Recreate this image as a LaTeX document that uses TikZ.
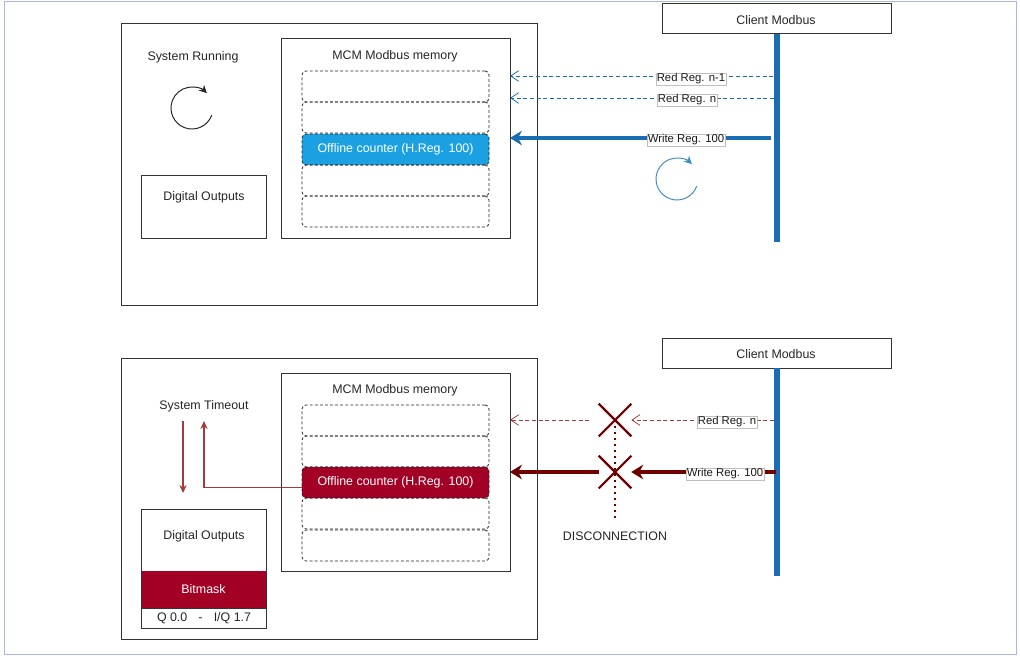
\documentclass[tikz,border=0pt]{standalone}
\usepackage{fontspec}
\setmainfont{Liberation Sans}
\usetikzlibrary{arrows.meta}
\definecolor{frameblue}{HTML}{AAB7E0}
\definecolor{lineblue}{HTML}{1A6DB3}
\definecolor{cellblue}{HTML}{1BA1E2}
\definecolor{loopblue}{HTML}{3A8CC6}
\definecolor{cellred}{HTML}{A20025}
\definecolor{darkred}{HTML}{6F0000}
\definecolor{thinred}{HTML}{A63A3A}
\begin{document}
\begin{tikzpicture}[x=0.75pt,y=-0.75pt,
  font=\fontsize{9.3}{11}\selectfont,
  framebox/.style={draw=frameblue, line width=0.9pt, anchor=north west, inner sep=0pt, minimum width=759pt, minimum height=489.75pt},
  box/.style={draw=black!80, line width=0.75pt, anchor=north west, inner sep=0pt, outer sep=0pt},
  outerbox/.style={box, minimum width=312pt, minimum height=210.75pt},
  memboxstyle/.style={box, minimum width=171.75pt},
  slot/.style={draw=black!85, dash pattern=on 2.2pt off 1.6pt, line width=0.6pt, rounded corners=3pt, anchor=north west, minimum width=140.25pt, minimum height=23.25pt, inner sep=0pt, outer sep=0pt},
  doutbox/.style={box, minimum width=93.75pt},
  clientbox/.style={box, minimum width=171.75pt, minimum height=22.5pt},
  txt/.style={inner sep=0pt, text=black!85},
  lbl/.style={fill=white, draw=black!25, line width=0.4pt, inner sep=0.6pt, text=black!90, font=\fontsize{8.5}{10}\selectfont},
  lifeline/.style={draw=lineblue, line width=4.5pt},
  readarrow/.style={dash pattern=on 3pt off 2pt, line width=0.6pt, -{Straight Barb[length=6pt,width=8pt,line width=0.6pt]}},
  writearrow/.style={line width=3pt, -{Stealth[length=9pt,width=11pt,inset=3pt]}},
  loop/.style={line width=0.75pt, -{Stealth[length=6pt,width=6pt]}},
  thinarrow/.style={draw=thinred, line width=0.9pt, -{Stealth[length=6pt,width=5.5pt]}},
  xmark/.style={minimum size=24pt, inner sep=0pt},
  xline/.style={draw=darkred, line width=1.6pt},
]
\useasboundingbox (0,0) rectangle (1020,656);
\node[framebox] (frame) at (4,1) {};

%% ---------------- TOP ----------------
\node[outerbox] (outer1) at (121,24) {};
\node[memboxstyle, minimum height=149.25pt] (mem1) at (281,39) {};
\node[txt] (memt1) at (395,56) {MCM Modbus memory};
\node[slot] (s11) at (302,71) {};
\node[slot] (s12) at (302,102) {};
\node[slot, fill=cellblue, text=white] (s13) at (302,134) {Offline counter (H.Reg. 100)};
\node[slot] (s14) at (302,165) {};
\node[slot] (s15) at (302,196) {};
\node[txt] (sysrun) at (193,57) {System Running};
\coordinate (loop1) at (192,108);
\draw[loop, draw=black!85] (loop1) ++(20:21) arc[start angle=20, end angle=315, radius=21];
\node[doutbox, minimum height=47.25pt] (dout1) at (141,175) {};
\node[txt] (doutt1) at (204,197) {Digital Outputs};

\node[clientbox] (client1) at (662,4) {};
\node[txt] (clientt1) at (776,20) {Client Modbus};
\coordinate (life1end) at (776,242);
\draw[lifeline] (client1.south) -- (client1.south |- life1end);

\coordinate (r1a) at (780,76);
\coordinate (r1b) at (774,98);
\coordinate (w1) at (771,138);
\draw[readarrow, draw=lineblue] (r1a) -- (r1a -| mem1.east);
\draw[readarrow, draw=lineblue] (r1b) -- (r1b -| mem1.east);
\draw[writearrow, draw=lineblue] (w1) -- (w1 -| mem1.east);
\node[lbl] (l1a) at (691,79) {Red Reg. n-1};
\node[lbl] (l1b) at (687,100) {Red Reg. n};
\node[lbl] (l1c) at (686,140) {Write Reg. 100};
\coordinate (loop2) at (677,179);
\draw[loop, draw=loopblue, line width=0.7pt] (loop2) ++(20:21) arc[start angle=20, end angle=315, radius=21];

%% ---------------- BOTTOM ----------------
\node[outerbox] (outer2) at (121,358) {};
\node[memboxstyle, minimum height=148.5pt] (mem2) at (281,373) {};
\node[txt] (memt2) at (395,390) {MCM Modbus memory};
\node[slot] (s21) at (302,405) {};
\node[slot] (s22) at (302,436) {};
\node[slot, fill=cellred, text=white] (s23) at (302,467) {Offline counter (H.Reg. 100)};
\node[slot] (s24) at (302,498) {};
\node[slot] (s25) at (302,530) {};
\node[txt] (systo) at (204,406) {System Timeout};

\node[doutbox, minimum height=89.25pt] (dout2) at (141,509) {};
\node[txt] (doutt2) at (204,536) {Digital Outputs};
\node[box, draw=none, fill=cellred, minimum width=93.75pt, minimum height=27.75pt, text=white] (bitmask) at (141,571) {Bitmask};
\draw[black!80, line width=0.75pt] (bitmask.south west) -- (bitmask.south east);
\draw[black!80, line width=0.75pt] (dout2.north west) rectangle (dout2.south east);
\node[txt] (range) at (204,618) {Q 0.0\hspace{0.9em}-\hspace{0.9em}I/Q 1.7};

\coordinate (dn1) at (183,421);
\coordinate (dn2) at (183,493);
\draw[thinarrow] (dn1) -- (dn2);
\coordinate (uptip) at (204,421);
\draw[thinarrow] ([yshift=-4pt]s23.west) -| (uptip);

\node[clientbox] (client2) at (662,338) {};
\node[txt] (clientt2) at (776,354) {Client Modbus};
\coordinate (life2end) at (776,576);
\draw[lifeline] (client2.south) -- (client2.south |- life2end);

\node[xmark] (x1) at (615,420) {};
\node[xmark] (x2) at (615,472) {};
\coordinate (dend) at (615,518);
\draw[darkred, line width=1.5pt, dash pattern=on 1.5pt off 3pt] (x1.center) -- (dend);
\draw[xline] (x1.north west) -- (x1.south east) (x1.north east) -- (x1.south west);
\draw[xline] (x2.north west) -- (x2.south east) (x2.north east) -- (x2.south west);
\node[txt] (disc) at (615,536) {DISCONNECTION};

\coordinate (r2) at (774,420);
\coordinate (w2) at (776,472);
\draw[readarrow, draw=thinred] (r2) -- (x1.east);
\draw[readarrow, draw=thinred] ([xshift=-7pt]x1.west) -- (x1.west -| mem2.east);
\draw[writearrow, draw=darkred] (w2) -- (x2.east);
\draw[writearrow, draw=darkred] (x2.west) -- (x2.west -| mem2.east);
\node[lbl] (l2a) at (727,422) {Red Reg. n};
\node[lbl] (l2b) at (725,474) {Write Reg. 100};
\end{tikzpicture}
\end{document}
